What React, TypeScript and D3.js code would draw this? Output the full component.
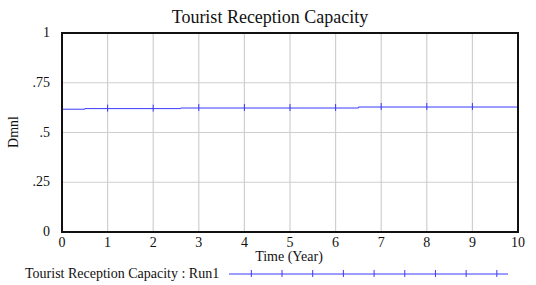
import React from "react";
import * as d3 from "d3";

// data
const times = [0, 0.5, 2.6, 6.5, 10];
const capacity = [0.617, 0.62, 0.623, 0.628, 0.628];
const xTicks = [0, 1, 2, 3, 4, 5, 6, 7, 8, 9, 10];
const yTicks = [0, 0.25, 0.5, 0.75, 1];
const yTickLabels = ["0", ".25", ".5", ".75", "1"];
const markerTimes = [1, 2, 3, 4, 5, 6, 7, 8, 9];

const W = 536;
const H = 285;
const m = { left: 62, right: 518, top: 33, bottom: 232 };
const blue = "#3a3aff";
const font = "Liberation Serif, DejaVu Serif, serif";

const App = () => {
  const x = d3.scaleLinear().domain([0, 10]).range([m.left, m.right]);
  const y = d3.scaleLinear().domain([0, 1]).range([m.bottom, m.top]);
  const pts = times.map((t, i) => [t, capacity[i]] as [number, number]);
  const line = d3
    .line<[number, number]>()
    .x((d) => x(d[0]))
    .y((d) => y(d[1]))
    .curve(d3.curveStepAfter);
  const valueAt = (t: number) => {
    let v = capacity[0];
    times.forEach((tt, i) => {
      if (tt <= t) v = capacity[i];
    });
    return v;
  };

  // legend line
  const lx = d3.scaleLinear().domain([0, 10]).range([229, 508]);
  const legendTicks = [0.8, 1.9, 3.0, 4.1, 5.2, 6.3, 7.4, 8.5, 9.6];
  const txt = { fontFamily: font };

  return (
    <svg
      width={W}
      height={H}
      style={{ position: "absolute", left: 0, top: 0, background: "#fff", fontFamily: font }}
    >
      <text x={270} y={23} textAnchor="middle" fontSize={18} fill="#111" style={txt}>
        Tourist Reception Capacity
      </text>
      {xTicks.slice(1, -1).map((t) => (
        <line key={"gx" + t} x1={x(t)} x2={x(t)} y1={m.top} y2={m.bottom} stroke="#cfcfcf" strokeWidth={1.2} />
      ))}
      {yTicks.slice(1, -1).map((t) => (
        <line key={"gy" + t} x1={m.left} x2={m.right} y1={y(t)} y2={y(t)} stroke="#cfcfcf" strokeWidth={1.2} />
      ))}
      <path d={line(pts) || ""} fill="none" stroke={blue} strokeWidth={1} />
      {markerTimes.map((t) => (
        <line key={"mk" + t} x1={x(t)} x2={x(t)} y1={y(valueAt(t)) - 4} y2={y(valueAt(t)) + 3} stroke={blue} strokeWidth={1} />
      ))}
      <rect x={m.left} y={m.top} width={m.right - m.left} height={m.bottom - m.top} fill="none" stroke="#111" strokeWidth={2} />
      {yTicks.map((t, i) => (
        <text key={"yl" + t} x={50} y={y(t) + 4} textAnchor="end" fontSize={14} fill="#111" style={txt}>
          {yTickLabels[i]}
        </text>
      ))}
      {xTicks.map((t) => (
        <text key={"xl" + t} x={x(t)} y={247} textAnchor="middle" fontSize={14} fill="#111" style={txt}>
          {t}
        </text>
      ))}
      <text x={289} y={261} textAnchor="middle" fontSize={14} fill="#111" style={txt}>
        Time (Year)
      </text>
      <text transform="translate(18,132) rotate(-90)" textAnchor="middle" fontSize={14} fill="#111" style={txt}>
        Dmnl
      </text>
      <text x={25} y={278} fontSize={14} fill="#111" style={txt}>
        Tourist Reception Capacity : Run1
      </text>
      <line x1={lx(0)} x2={lx(10)} y1={274} y2={274} stroke={blue} strokeWidth={1} />
      {legendTicks.map((t) => (
        <line key={"lt" + t} x1={lx(t)} x2={lx(t)} y1={270} y2={277} stroke={blue} strokeWidth={1} />
      ))}
    </svg>
  );
};

export default App;
